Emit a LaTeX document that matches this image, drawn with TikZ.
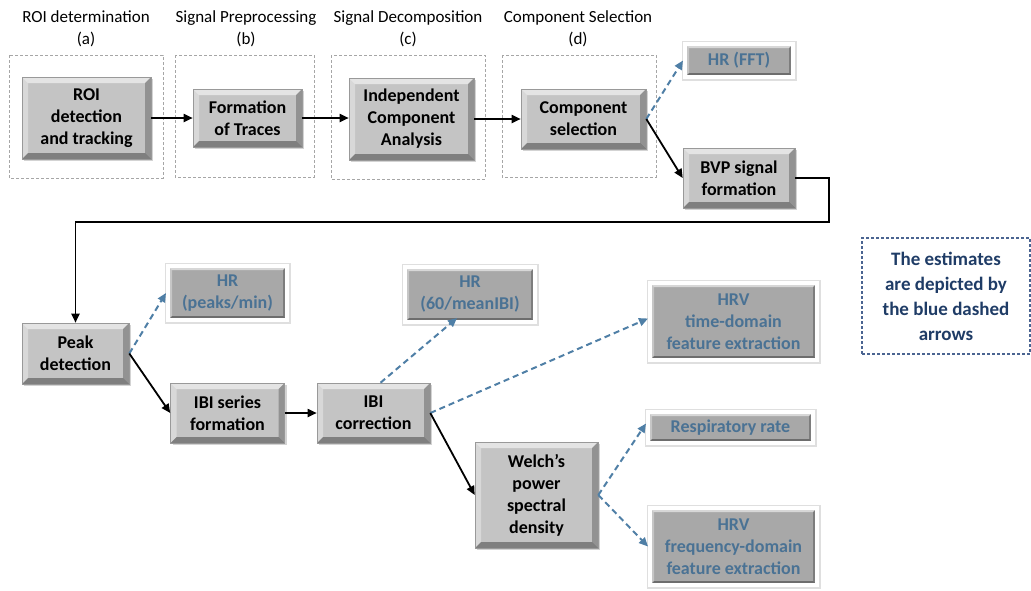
\documentclass[tikz,border=0pt]{standalone}
\usepackage{fontspec}
\setmainfont{Carlito}
\usetikzlibrary{arrows.meta,shadows,calc}
\definecolor{boxgray}{HTML}{C4C4C4}
\definecolor{estgray}{HTML}{A8A8A8}
\definecolor{estblue}{HTML}{4A7294}
\definecolor{arrblue}{HTML}{4F7FA6}
\definecolor{navy}{HTML}{1F3C66}
\definecolor{notebd}{HTML}{4A6491}
\tikzset{
  bevel/.style={path picture={
    \fill[white,opacity=.55] (path picture bounding box.north west) -- (path picture bounding box.north east)
      -- ([xshift=-#1,yshift=-#1]path picture bounding box.north east) -- ([xshift=#1,yshift=-#1]path picture bounding box.north west) -- cycle;
    \fill[white,opacity=.35] (path picture bounding box.north west) -- (path picture bounding box.south west)
      -- ([xshift=#1,yshift=#1]path picture bounding box.south west) -- ([xshift=#1,yshift=-#1]path picture bounding box.north west) -- cycle;
    \fill[black,opacity=.35] (path picture bounding box.south west) -- (path picture bounding box.south east)
      -- ([xshift=-#1,yshift=#1]path picture bounding box.south east) -- ([xshift=#1,yshift=#1]path picture bounding box.south west) -- cycle;
    \fill[black,opacity=.25] (path picture bounding box.north east) -- (path picture bounding box.south east)
      -- ([xshift=-#1,yshift=#1]path picture bounding box.south east) -- ([xshift=-#1,yshift=-#1]path picture bounding box.north east) -- cycle;
  }},
  stepbox/.style={fill=boxgray, draw=gray!80, line width=0.6pt, bevel=6pt,
    align=center, inner sep=2pt, font=\fontsize{18}{22}\selectfont\bfseries,
    drop shadow={shadow xshift=2pt,shadow yshift=-2pt,opacity=.35}},
  estbox/.style={fill=estgray, draw=white, line width=4pt, bevel=4pt,
    preaction={draw=gray!25, line width=7pt},
    align=center, inner sep=2pt, text=estblue, font=\fontsize{18}{22}\selectfont\bfseries},
  grpbox/.style={draw=gray!70, line width=1pt, dash pattern=on 3pt off 2pt},
  hdr/.style={align=center, font=\fontsize{17}{22}\selectfont},
  flow/.style={draw=black, line width=1.8pt, -{Triangle[length=9pt,width=8pt]}},
  est/.style={draw=arrblue, line width=2pt, dash pattern=on 6pt off 4pt, -{Triangle[length=9pt,width=8pt]}},
}
\begin{document}
\begin{tikzpicture}[x=1pt,y=-1pt]
\useasboundingbox (0,0) rectangle (1031,590);
% group boxes
\draw[grpbox] (9,55) rectangle (163,178);
\draw[grpbox] (175,55) rectangle (314,177);
\draw[grpbox] (331,55) rectangle (485,179);
\draw[grpbox] (502,55) rectangle (656,177);
% headers
\node[hdr] (ha) at (86,29) {ROI determination\\(a)};
\node[hdr] (hb) at (246,29) {Signal Preprocessing\\(b)};
\node[hdr] (hc) at (408,29) {Signal Decomposition\\(c)};
\node[hdr] (hd) at (578,29) {Component Selection\\(d)};
% main nodes
\node[stepbox, minimum width=129pt, minimum height=82pt] (roi) at (86.5,118) {ROI\\detection\\and tracking};
\node[stepbox, minimum width=109pt, minimum height=58pt] (tr) at (247.5,118) {Formation\\of Traces};
\node[stepbox, minimum width=125pt, minimum height=82pt] (ica) at (411.5,119) {Independent\\Component\\Analysis};
\node[stepbox, minimum width=125pt, minimum height=60pt] (cs) at (583.5,119) {Component\\selection};
\node[estbox, minimum width=108pt, minimum height=33pt] (hrfft) at (739,60.5) {HR (FFT)};
\node[stepbox, minimum width=112pt, minimum height=60pt] (bvp) at (739,178) {BVP signal\\formation};
\node[stepbox, minimum width=107pt, minimum height=61pt] (peak) at (75.5,353.5) {Peak\\detection};
\node[estbox, minimum width=119pt, minimum height=54pt] (hrpk) at (227.5,293) {HR\\(peaks/min)};
\node[stepbox, minimum width=114pt, minimum height=60pt] (ibis) at (227.5,413) {IBI series\\formation};
\node[stepbox, minimum width=113pt, minimum height=60pt] (ibic) at (373.5,413) {IBI\\correction};
\node[estbox, minimum width=130pt, minimum height=55pt] (hr60) at (470,294.5) {HR\\(60/meanIBI)};
\node[estbox, minimum width=167pt, minimum height=77pt] (hrvt) at (733.5,321.5) {HRV\\time-domain\\feature extraction};
\node[estbox, minimum width=165pt, minimum height=31pt] (resp) at (730.5,427.5) {Respiratory rate};
\node[stepbox, minimum width=123pt, minimum height=106pt] (welch) at (536.5,495) {Welch’s\\power\\spectral\\density};
\node[estbox, minimum width=167pt, minimum height=77pt] (hrvf) at (733.5,546.5) {HRV\\frequency-domain\\feature extraction};
% note
\node[draw=notebd, dash pattern=on 3pt off 2pt, line width=1.2pt, minimum width=168pt, minimum height=116pt,
  align=center, text=navy, font=\fontsize{19}{25}\selectfont\bfseries] (note) at (946,296) {The estimates\\are depicted by\\the blue dashed\\arrows};
% connectors
\draw[flow] (roi) -- (tr);
\draw[flow] (tr.east) -- (ica.west |- tr.east);
\draw[flow] (ica) -- (cs);
\draw[est] (cs.east) -- (hrfft.west);
\draw[flow] (cs.east) -- (bvp.west);
\coordinate (c1) at (829,222);
\draw[flow] (bvp.east) -| (c1) -| (peak.north);
\draw[est] (peak.east) -- (hrpk.west);
\draw[flow] (peak.east) -- (ibis.west);
\draw[flow] (ibis) -- (ibic);
\draw[est] ([xshift=7pt]ibic.north) -- ([xshift=-13pt,yshift=6pt]hr60.south);
\draw[est] (ibic.east) -- ([yshift=3pt]hrvt.west);
\draw[flow] (ibic.east) -- (welch.west);
\draw[est] (welch.east) -- ([yshift=4pt]resp.west);
\draw[est] (welch.east) -- (hrvf.west);
\end{tikzpicture}
\end{document}
